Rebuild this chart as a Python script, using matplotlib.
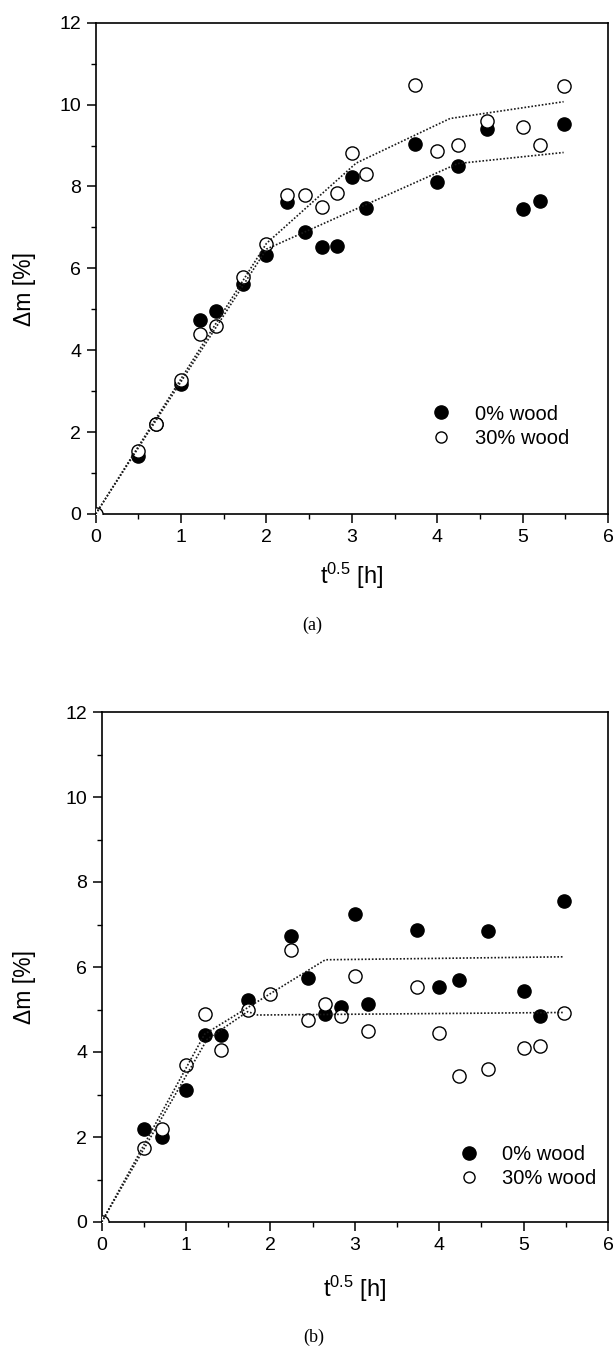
import matplotlib
matplotlib.use("Agg")
import matplotlib.pyplot as plt
from matplotlib.lines import Line2D
from matplotlib.ticker import MultipleLocator

plt.rcParams['font.family'] = ['Liberation Sans', 'DejaVu Sans']
plt.rcParams['mathtext.fontset'] = 'custom'
plt.rcParams['mathtext.rm'] = 'Liberation Sans'
plt.rcParams['mathtext.it'] = 'Liberation Sans'

# ---------------- data: panel (a) ----------------
a_x_filled = [0.5, 0.71, 1.0, 1.22, 1.41, 1.73, 2.0, 2.24, 2.45, 2.65, 2.83, 3.0, 3.16,
              3.74, 4.0, 4.24, 4.58, 5.0, 5.2, 5.48]
a_y_filled = [1.42, 2.20, 3.17, 4.74, 4.95, 5.62, 6.33, 7.63, 6.88, 6.53, 6.55, 8.22, 7.47,
              9.04, 8.10, 8.51, 9.41, 7.45, 7.65, 9.53]
a_x_open = [0.0, 0.5, 0.71, 1.0, 1.22, 1.41, 1.73, 2.0, 2.24, 2.45, 2.65, 2.83, 3.0, 3.16,
            3.74, 4.0, 4.24, 4.58, 5.0, 5.2, 5.48]
a_y_open = [0.0, 1.54, 2.21, 3.28, 4.39, 4.60, 5.80, 6.59, 7.79, 7.79, 7.50, 7.83, 8.81, 8.30,
            10.48, 8.86, 9.01, 9.61, 9.46, 9.02, 10.46]
a_fit_filled_x = [0.0, 2.0, 4.24, 5.48]
a_fit_filled_y = [0.0, 6.47, 8.56, 8.83]
a_fit_open_x = [0.0, 2.0, 3.05, 4.15, 5.48]
a_fit_open_y = [0.0, 6.61, 8.57, 9.66, 10.07]

# ---------------- data: panel (b) ----------------
b_x_filled = [0.5, 0.71, 1.0, 1.22, 1.41, 1.73, 2.24, 2.45, 2.65, 2.83, 3.0, 3.16,
              3.74, 4.0, 4.24, 4.58, 5.0, 5.2, 5.48]
b_y_filled = [2.20, 1.99, 3.10, 4.41, 4.40, 5.23, 6.73, 5.73, 4.90, 5.06, 7.24, 5.14,
              6.88, 5.52, 5.69, 6.85, 5.44, 4.84, 7.55]
b_x_open = [0.0, 0.5, 0.71, 1.0, 1.22, 1.41, 1.73, 2.0, 2.24, 2.45, 2.65, 2.83, 3.0, 3.16,
            3.74, 4.0, 4.24, 4.58, 5.0, 5.2, 5.48]
b_y_open = [0.0, 1.75, 2.20, 3.69, 4.90, 4.04, 4.98, 5.36, 6.39, 4.75, 5.12, 4.84, 5.80, 4.49,
            5.52, 4.45, 3.43, 3.59, 4.10, 4.13, 4.92]
b_fit_filled_x = [0.0, 1.22, 2.65, 5.48]
b_fit_filled_y = [0.0, 4.42, 6.17, 6.24]
b_fit_open_x = [0.0, 1.25, 1.73, 1.85, 5.48]
b_fit_open_y = [0.0, 4.30, 4.95, 4.87, 4.93]

legend_labels = ["0% wood", "30% wood"]
x_ticks = [0, 1, 2, 3, 4, 5, 6]
y_ticks = [0, 2, 4, 6, 8, 10, 12]

W, H = 615, 1348
fig = plt.figure(figsize=(W / 100, H / 100), dpi=100)

def px_rect(l, r, t, b):
    return [l / W, 1 - b / H, (r - l) / W, (b - t) / H]

ax_a = fig.add_axes(px_rect(95.7, 608, 22.7, 514))
ax_b = fig.add_axes(px_rect(101.7, 608, 712, 1222))

MS = 9.5
def draw(ax, xf, yf, xo, yo, fxf, fyf, fxo, fyo, leg_anchor):
    ax.plot(xf, yf, linestyle='none', marker='o', ms=MS, mfc='black', mec='black',
            mew=1.0, zorder=3)
    ax.plot(xo, yo, linestyle='none', marker='o', ms=MS, mfc='white', mec='black',
            mew=1.0, zorder=4)
    ax.plot(fxf, fyf, color='#1a1a1a', lw=1.2, linestyle=(0, (1, 1.1)), zorder=5)
    ax.plot(fxo, fyo, color='#1a1a1a', lw=1.2, linestyle=(0, (1, 1.1)), zorder=5)
    ax.set_xlim(0, 6)
    ax.set_ylim(0, 12)
    ax.set_xticks(x_ticks)
    ax.set_yticks(y_ticks)
    ax.xaxis.set_minor_locator(MultipleLocator(0.5))
    ax.yaxis.set_minor_locator(MultipleLocator(1))
    ax.tick_params(which='major', direction='out', length=6.5, width=1.1,
                   labelsize=14, top=False, right=False, pad=4)
    ax.tick_params(which='minor', direction='out', length=3.5, width=1.0,
                   top=False, right=False)
    for s in ax.spines.values():
        s.set_linewidth(1.2)
    handles = [Line2D([], [], linestyle='none', marker='o', ms=9.5, mfc='black', mec='black'),
               Line2D([], [], linestyle='none', marker='o', ms=8, mfc='white', mec='black',
                      mew=1.0)]
    ax.legend(handles, legend_labels, loc='center left', bbox_to_anchor=leg_anchor,
              frameon=False, fontsize=14.5, handlelength=1.0, handletextpad=1.15,
              borderpad=0, borderaxespad=0, labelspacing=0.25)

draw(ax_a, a_x_filled, a_y_filled, a_x_open, a_y_open,
     a_fit_filled_x, a_fit_filled_y, a_fit_open_x, a_fit_open_y, (0.655, 0.179))
draw(ax_b, b_x_filled, b_y_filled, b_x_open, b_y_open,
     b_fit_filled_x, b_fit_filled_y, b_fit_open_x, b_fit_open_y, (0.706, 0.109))

ylab = "\u0394m [%]"
xlab = r"$\mathregular{t^{0.5}}$ [h]"
fig.text(24 / W, 1 - 289 / H, ylab, rotation=90, ha='center', va='center', fontsize=16.5)
fig.text(25 / W, 1 - 987 / H, ylab, rotation=90, ha='center', va='center', fontsize=16.5)
fig.text(352 / W, 1 - 576 / H, xlab, ha='center', va='center', fontsize=17)
fig.text(355 / W, 1 - 1289 / H, xlab, ha='center', va='center', fontsize=17)
fig.text(312 / W, 1 - 625 / H, "(a)", ha='center', va='center', fontsize=13,
         family=['Liberation Serif', 'DejaVu Serif'])
fig.text(314 / W, 1 - 1337 / H, "(b)", ha='center', va='center', fontsize=13,
         family=['Liberation Serif', 'DejaVu Serif'])

fig.savefig("out.png", dpi=100)
